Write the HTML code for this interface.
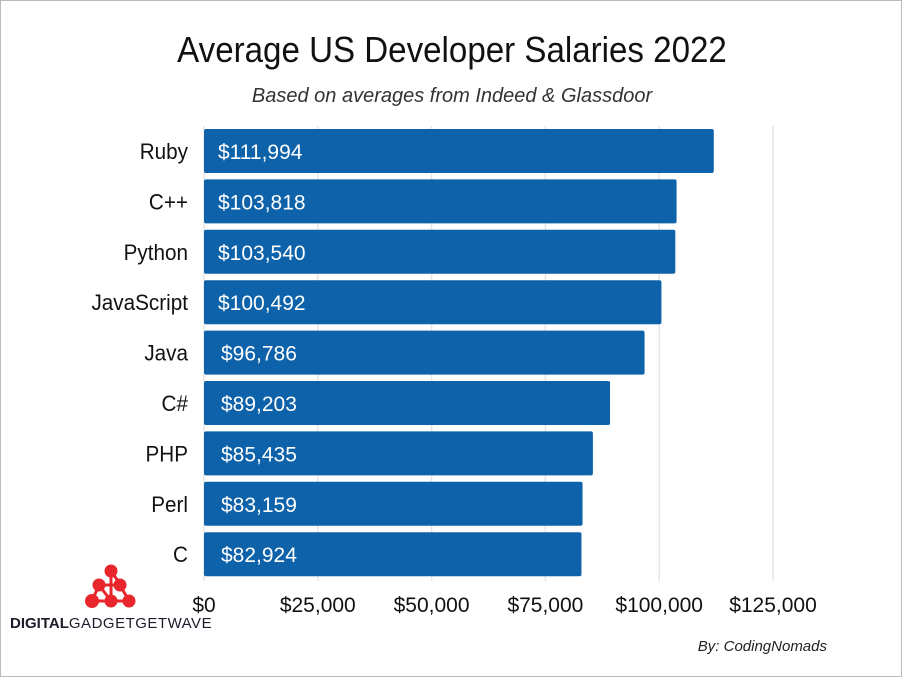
<!DOCTYPE html>
<html><head><meta charset="utf-8"><style>
html,body{margin:0;padding:0;background:#fff;}
#wrap{position:relative;width:900px;height:675px;border:1px solid #bbb;overflow:hidden;font-family:"Liberation Sans",sans-serif;}
svg text{font-family:"Liberation Sans",sans-serif;}
</style></head><body>
<div id="wrap">
<svg id="chart" width="900" height="675">
<g transform="translate(451,0) scale(0.92,1)"><text x="0" y="61" text-anchor="middle" font-size="36" fill="#111">Average US Developer Salaries 2022</text></g>
<text x="451" y="101" text-anchor="middle" font-size="20" font-style="italic" fill="#333">Based on averages from Indeed &amp; Glassdoor</text>
<g id="grid"></g><g id="bars"></g><g id="ticks"></g>
<text x="826" y="650" text-anchor="end" font-size="15" font-style="italic" fill="#222">By: CodingNomads</text>
<g fill="#e8262b" stroke="#e8262b" stroke-width="3">
<line x1="110" y1="570" x2="119" y2="583"/><line x1="98" y1="584" x2="119" y2="584"/><line x1="98" y1="584" x2="91" y2="600"/><line x1="119" y1="584" x2="128" y2="600"/><line x1="98" y1="584" x2="110" y2="600"/><line x1="91" y1="600" x2="128" y2="600"/><line x1="110" y1="570" x2="110" y2="600"/>
<circle cx="110" cy="570" r="5"/><circle cx="98" cy="584" r="5"/><circle cx="119" cy="584" r="5"/><circle cx="91" cy="600" r="5.5"/><circle cx="110" cy="600" r="5"/><circle cx="128" cy="600" r="5"/>
</g>
<text x="9" y="627" font-family="Liberation Sans" font-size="15" fill="#1c1c2a"><tspan font-weight="bold">DIGITAL</tspan><tspan letter-spacing="0.5">GADGETGETWAVE</tspan></text>
</svg>
</div>
<script>
const categories=["Ruby","C++","Python","JavaScript","Java","C#","PHP","Perl","C"];
const values=[111994,103818,103540,100492,96786,89203,85435,83159,82924];
const valueLabels=["$111,994","$103,818","$103,540","$100,492","$96,786","$89,203","$85,435","$83,159","$82,924"];
const tickValues=[0,25000,50000,75000,100000,125000];
const tickLabels=["$0","$25,000","$50,000","$75,000","$100,000","$125,000"];
const NS="http://www.w3.org/2000/svg";
const x0=203,xScale=569/125000;
const x=v=>x0+v*xScale;
const y=i=>128+i*50.4;
const bh=44;
function mk(tag,attrs,parent){const e=document.createElementNS(NS,tag);for(const k in attrs)e.setAttribute(k,attrs[k]);parent.appendChild(e);return e;}
const grid=document.getElementById('grid'),bars=document.getElementById('bars'),ticks=document.getElementById('ticks');
tickValues.forEach((t,i)=>{
  const l=mk('line',{x1:x(t),x2:x(t),y1:125,y2:580,stroke:'#e6e6e6','stroke-width':1.5},grid);
  
  
  const tx=mk('text',{x:x(t),y:611,'text-anchor':'middle','font-size':21,fill:'#111'},ticks);
  tx.textContent=tickLabels[i];
  
  
});
categories.forEach((c,i)=>{
  const r=mk('rect',{x:x0,y:y(i),width:x(values[i])-x0,height:bh,rx:2,fill:'#0e62a9'},bars);
  
  
  const g=mk('g',{transform:'translate(187,0) scale(0.94,1)'},bars);
  const lt=mk('text',{x:0,y:y(i)+bh/2+8,'text-anchor':'end','font-size':22,fill:'#111'},g);
  lt.textContent=c;
  
  
  const vt=mk('text',{x:x0+(values[i]>=100000?14:17),y:y(i)+bh/2+8,'font-size':21,fill:'#fff'},bars);
  vt.textContent=valueLabels[i];
  
  
});
</script>
</body></html>
